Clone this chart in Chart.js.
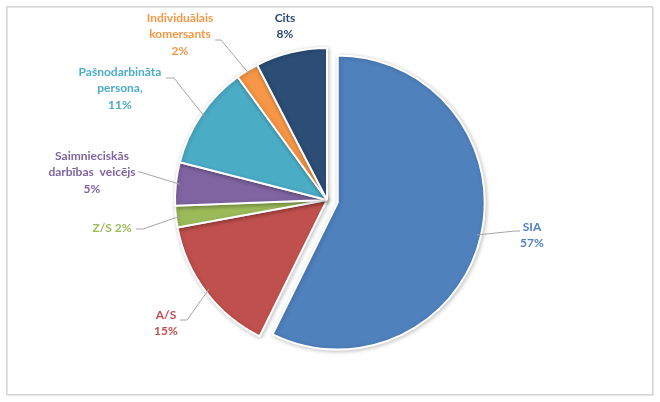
<!DOCTYPE html>
<html>
<head>
<meta charset="utf-8">
<script src="https://cdn.jsdelivr.net/npm/chart.js@4.4.0/dist/chart.umd.min.js"></script>
<style>
  html, body { margin: 0; padding: 0; background: #ffffff; }
  #wrap { width: 660px; height: 402px; }
</style>
</head>
<body>
<div id="wrap"><canvas id="pieChart" width="660" height="402"></canvas></div>
<script>
// slice data, clockwise from 12 o'clock
const categories = ['SIA', 'A/S', 'Z/S', 'Saimnieciskās darbības veicējs', 'Pašnodarbināta persona', 'Individuālais komersants', 'Cits'];
const shares = [57.3, 14.8, 2.3, 4.6, 11.0, 2.4, 7.6];
const sliceColors = ['#4F81BD', '#C0504D', '#9BBB59', '#8064A2', '#4BACC6', '#F79646', '#2C4D75'];
const textColors = ['#4F81BD', '#C0504D', '#9BBB59', '#8064A2', '#4BACC6', '#F79646', '#2C4D75'];
// pixels a slice is pulled out of the pie, and how much smaller it is drawn
const explode = [11, 0, 0, 0, 0, 0, 0];
const explodeShrink = 5;

// how each data label is written ({p} = percent)
const labelText = ['SIA\n{p}', 'A/S\n{p}', 'Z/S {p}', 'Saimnieciskās\ndarbības  veicējs\n{p}', 'Pašnodarbināta\npersona,\n{p}', 'Individuālais\nkomersants\n{p}', 'Cits\n{p}'];

// label placement (text centre x, first line y) and leader line end / elbow
const labelLayout = [
    { x: 532, y: 227, end: [520, 231], elbow: [515, 231] },
    { x: 166, y: 315, end: [180, 320], elbow: [187, 320] },
    { x: 112, y: 228, end: [136, 229], elbow: [143, 229] },
    { x: 92,  y: 156, end: [138, 172], elbow: [140, 172] },
    { x: 120, y: 72,  end: [166, 78],  elbow: [174, 78] },
    { x: 180, y: 18,  end: [215, 40],  elbow: [221, 40] },
    { x: 285, y: 18,  end: null, elbow: null }
];

const frame = {
    id: 'frame',
    beforeDraw(chart) {
        const c = chart.ctx;
        c.save();
        c.fillStyle = '#ffffff';
        c.fillRect(0, 0, chart.width, chart.height);
        c.strokeStyle = '#e6e6e6';
        c.lineWidth = 1;
        c.strokeRect(7.5, 7.5, 646, 388);
        c.strokeStyle = '#d4d4d4';
        c.strokeRect(6.5, 6.5, 646, 388);
        c.restore();
    }
};

// move exploded slices' centres out along their middle angle
const explodeSlices = {
    id: 'explodeSlices',
    afterDatasetUpdate(chart, args) {
        const meta = chart.getDatasetMeta(args.index);
        meta.data.forEach((arc, i) => {
            if (!explode[i]) return;
            const mid = (arc.startAngle + arc.endAngle) / 2;
            arc.x += Math.cos(mid) * explode[i];
            arc.y += Math.sin(mid) * explode[i];
            arc.outerRadius -= explodeShrink;
        });
    }
};

const shadow = {
    id: 'shadow',
    beforeDatasetDraw(chart) {
        const c = chart.ctx;
        c.save();
        c.shadowColor = 'rgba(0,0,0,0.22)';
        c.shadowBlur = 4;
        c.shadowOffsetX = 1;
        c.shadowOffsetY = 1;
    },
    afterDatasetDraw(chart) {
        chart.ctx.restore();
    }
};

const dataLabels = {
    id: 'dataLabels',
    afterDatasetsDraw(chart) {
        const c = chart.ctx;
        const meta = chart.getDatasetMeta(0);
        const total = shares.reduce((a, b) => a + b, 0);
        c.save();
        meta.data.forEach((arc, i) => {
            const mid = (arc.startAngle + arc.endAngle) / 2;
            const r = arc.outerRadius - 4;
            const lay = labelLayout[i];

            if (lay.end) {
                c.strokeStyle = '#a6a6a6';
                c.lineWidth = 1;
                c.beginPath();
                c.moveTo(arc.x + Math.cos(mid) * r, arc.y + Math.sin(mid) * r);
                c.lineTo(lay.elbow[0], lay.elbow[1]);
                c.lineTo(lay.end[0], lay.end[1]);
                c.stroke();
            }

            const pct = Math.round(shares[i] / total * 100) + '%';
            const lines = labelText[i].replace('{p}', pct).split('\n');
            c.fillStyle = textColors[i];
            c.font = 'bold 12px Lato, "Open Sans", sans-serif';
            c.textAlign = 'center';
            c.textBaseline = 'middle';
            lines.forEach((ln, k) => {
                c.fillText(ln, lay.x, lay.y + k * 16.5);
            });
        });
        c.restore();
    }
};

new Chart(document.getElementById('pieChart'), {
    type: 'pie',
    data: {
        labels: categories,
        datasets: [{
            data: shares,
            backgroundColor: sliceColors,
            borderColor: '#ffffff',
            borderWidth: 2
        }]
    },
    options: {
        responsive: false,
        animation: false,
        radius: 152,
        layout: { padding: { left: 100, right: 106, top: 40, bottom: 42 } },
        plugins: {
            legend: { display: false },
            tooltip: { enabled: false }
        }
    },
    plugins: [frame, explodeSlices, shadow, dataLabels]
});
</script>
</body>
</html>
